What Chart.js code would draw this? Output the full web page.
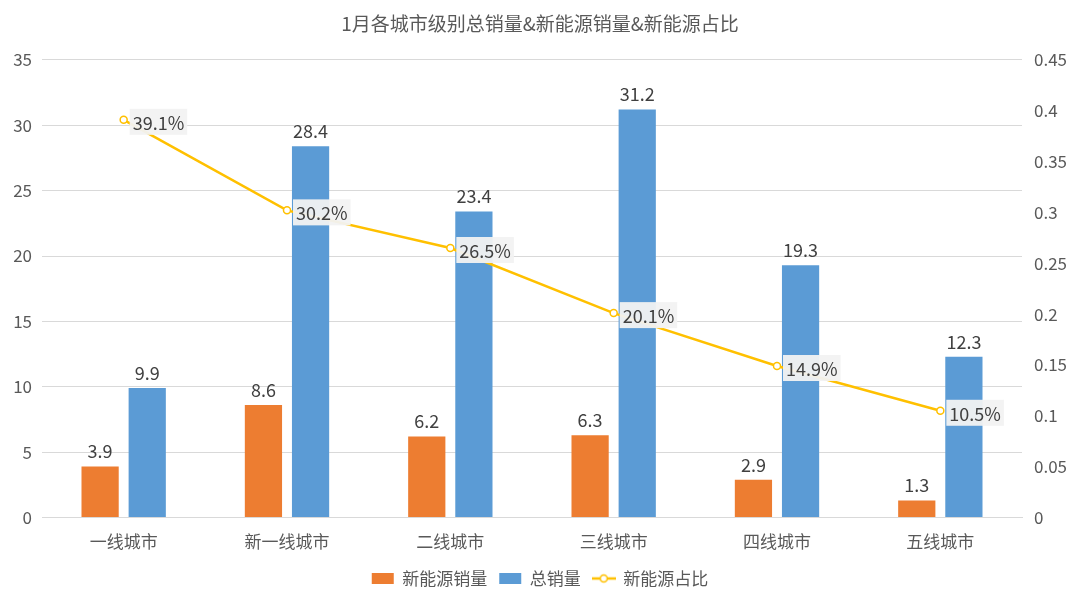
<!DOCTYPE html>
<html>
<head>
<meta charset="utf-8">
<script src="https://cdn.jsdelivr.net/npm/chart.js@4"></script>
<style>
  html, body { margin: 0; padding: 0; background: #fff; }
  #wrap { width: 1080px; height: 608px; }
</style>
</head>
<body>
<div id="wrap"><canvas id="cityChart" width="1080" height="608"></canvas></div>
<script>
const categories = ['一线城市', '新一线城市', '二线城市', '三线城市', '四线城市', '五线城市'];
const nevSales = [3.9, 8.6, 6.2, 6.3, 2.9, 1.3];
const totalSales = [9.9, 28.4, 23.4, 31.2, 19.3, 12.3];
const nevShare = [0.391, 0.302, 0.265, 0.201, 0.149, 0.105];
const shareLabels = ['39.1%', '30.2%', '26.5%', '20.1%', '14.9%', '10.5%'];

const FONT = '"Noto Sans CJK SC", "Noto Sans", sans-serif';
const TXT = '#595959';

// legend icon for the line: short line with hollow circle
const lineIcon = document.createElement('canvas');
lineIcon.width = 24; lineIcon.height = 12;
(function () {
    const g = lineIcon.getContext('2d');
    g.strokeStyle = '#FFC000';
    g.lineWidth = 2.5;
    g.beginPath(); g.moveTo(0, 6); g.lineTo(24, 6); g.stroke();
    g.fillStyle = '#fff';
    g.lineWidth = 1.5;
    g.beginPath(); g.arc(12, 6, 3.5, 0, Math.PI * 2); g.fill(); g.stroke();
})();

// labels above bars and next to line points
const labelPlugin = {
    id: 'labels',
    afterDatasetsDraw(chart) {
        const c = chart.ctx;
        c.save();
        c.font = '18px ' + FONT;
        c.fillStyle = '#404040';
        c.textAlign = 'center';
        c.textBaseline = 'bottom';
        [0, 1].forEach(di => {
            const meta = chart.getDatasetMeta(di);
            const vals = chart.data.datasets[di].data;
            meta.data.forEach((bar, i) => {
                c.fillText(vals[i].toFixed(1), bar.x, bar.y - 6);
            });
        });
        const lm = chart.getDatasetMeta(2);
        c.textAlign = 'left';
        c.textBaseline = 'middle';
        lm.data.forEach((pt, i) => {
            const t = shareLabels[i];
            const w = c.measureText(t).width;
            const x = pt.x + 6, y = pt.y + 2;
            c.fillStyle = 'rgba(242,242,242,0.95)';
            c.fillRect(x, y - 13, w + 6, 26);
            c.fillStyle = '#404040';
            c.fillText(t, x + 3, y + 1);
        });
        c.restore();
    }
};

const ctx = document.getElementById('cityChart').getContext('2d');

const cityChart = new Chart(ctx, {
    type: 'bar',
    data: {
        labels: categories,
        datasets: [
            {
                label: '新能源销量',
                data: nevSales,
                backgroundColor: '#ED7D31',
                yAxisID: 'y',
                categoryPercentage: 0.577,
                barPercentage: 0.79,
                order: 2
            },
            {
                label: '总销量',
                data: totalSales,
                backgroundColor: '#5B9BD5',
                yAxisID: 'y',
                categoryPercentage: 0.577,
                barPercentage: 0.79,
                order: 2
            },
            {
                type: 'line',
                label: '新能源占比',
                data: nevShare,
                borderColor: '#FFC000',
                backgroundColor: '#ffffff',
                borderWidth: 2.5,
                pointRadius: 3.5,
                pointBorderWidth: 1.5,
                pointBorderColor: '#FFC000',
                pointBackgroundColor: '#ffffff',
                yAxisID: 'y1',
                order: 1
            }
        ]
    },
    options: {
        responsive: false,
        animation: false,
        layout: { padding: { top: 12, bottom: 11, left: 0, right: 0 } },
        scales: {
            x: {
                grid: { display: false },
                border: { color: '#d9d9d9' },
                ticks: { color: TXT, font: { size: 17, family: FONT }, padding: 6 }
            },
            y: {
                position: 'left',
                min: 0, max: 35,
                ticks: { stepSize: 5, color: TXT, font: { size: 17, family: FONT }, padding: 10 },
                grid: { color: '#d9d9d9', drawTicks: false },
                border: { display: false },
                afterFit(s) { s.width = 42; }
            },
            y1: {
                position: 'right',
                min: 0, max: 0.45,
                ticks: {
                    stepSize: 0.05, color: TXT, font: { size: 17, family: FONT }, padding: 12,
                    callback: v => String(+v.toFixed(2))
                },
                grid: { display: false, drawTicks: false },
                border: { display: false },
                afterFit(s) { s.width = 58; }
            }
        },
        plugins: {
            title: {
                display: true,
                text: '1月各城市级别总销量&新能源销量&新能源占比',
                color: TXT,
                font: { size: 19, family: FONT, weight: 'normal' },
                padding: { top: 0, bottom: 25 }
            },
            legend: {
                position: 'bottom',
                labels: {
                    color: TXT,
                    font: { size: 17, family: FONT },
                    usePointStyle: true,
                    pointStyleWidth: 22,
                    boxWidth: 12, boxHeight: 11,
                    padding: 12,
                    generateLabels(chart) {
                        return chart.data.datasets.map((d, i) => ({
                            text: d.label,
                            fillStyle: d.backgroundColor,
                            strokeStyle: d.backgroundColor,
                            lineWidth: 0,
                            pointStyle: d.type === 'line' ? lineIcon : 'rect',
                            fontColor: TXT,
                            datasetIndex: i
                        }));
                    }
                }
            },
            tooltip: { enabled: false }
        }
    },
    plugins: [labelPlugin]
});
</script>
</body>
</html>
